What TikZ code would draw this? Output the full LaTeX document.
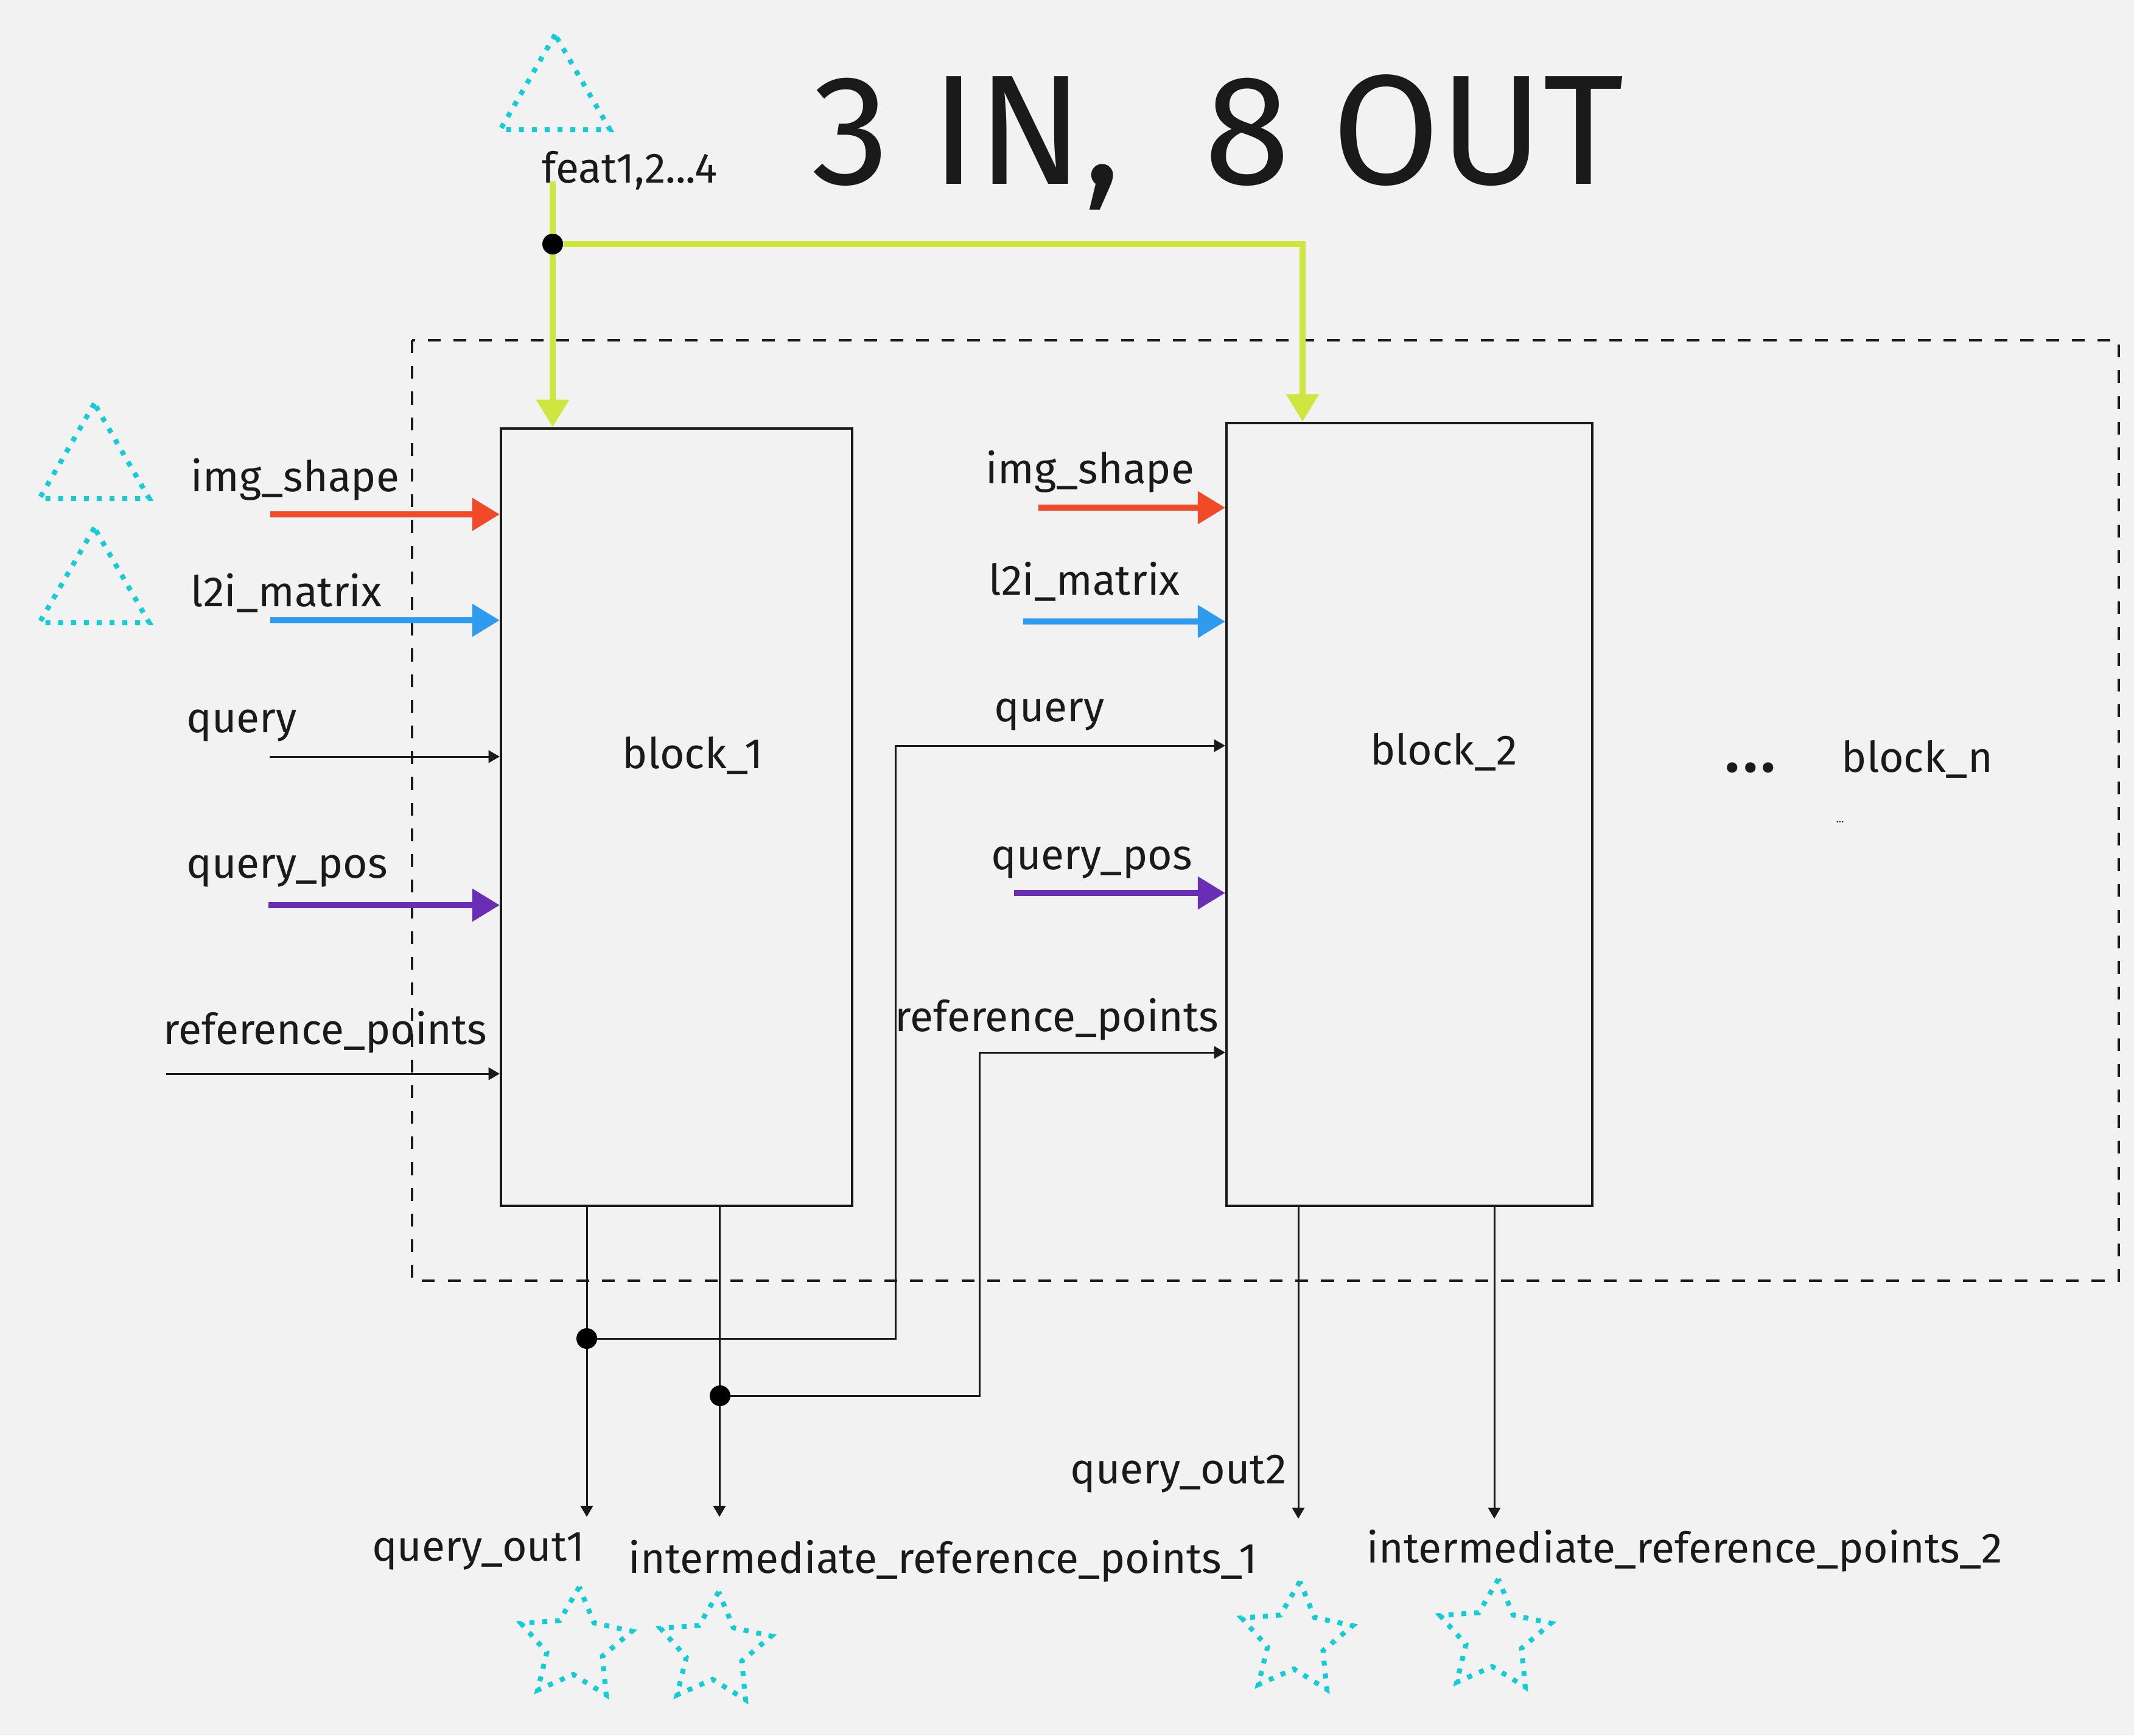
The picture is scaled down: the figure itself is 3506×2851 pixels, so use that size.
\documentclass[tikz,border=0pt]{standalone}
\usepackage{fontspec}
\setmainfont{Fira Sans}
\usetikzlibrary{arrows.meta,shapes.geometric}
\definecolor{bgcol}{HTML}{F2F2F2}
\definecolor{inkcol}{HTML}{1A1A1A}
\definecolor{featcol}{HTML}{CFE540}
\definecolor{shapecol}{HTML}{F04A28}
\definecolor{matcol}{HTML}{2F9BEF}
\definecolor{poscol}{HTML}{6A2DB6}
\definecolor{markcol}{HTML}{12CDD6}

\begin{document}
\begin{tikzpicture}[x=0.01cm,y=-0.01cm]
    % Basic styles
    \tikzset{
        block/.style={rectangle, draw=inkcol, line width=1.1pt, inner sep=0pt},
        lbl/.style={anchor=base west, inner sep=0pt, text=inkcol, font=\fontsize{19.8}{22}\selectfont},
        thinarrow/.style={draw=inkcol, line width=0.85pt, -{Triangle[length=5.2pt,width=5.8pt]}},
        fatarrow/.style={line width=2.6pt, -{Triangle[length=12.8pt,width=14.8pt]}},
        tri/.style={regular polygon, regular polygon sides=3, minimum size=2.08cm, inner sep=0pt,
            draw=markcol, line width=2.3pt, dash pattern=on 2.3pt off 3.7pt},
        outstar/.style={star, star points=5, star point ratio=2.0, minimum size=1.92cm, inner sep=0pt,
            draw=markcol, line width=2.3pt, dash pattern=on 2.3pt off 3.7pt, rotate=-4},
        joint/.style={circle, fill=black, inner sep=0pt, minimum size=0.34cm}
    }

    % Canvas
    \fill[bgcol] (0,0) rectangle (3506,2851);
    \useasboundingbox (0,0) rectangle (3506,2851);

    % Title
    \node[anchor=base, inner sep=0pt, text=inkcol, font=\fontsize{73}{76}\selectfont] (title) at (2001,302) {3 IN,\ \ 8 OUT};

    % Outer frame
    \draw[inkcol, line width=0.9pt, dash pattern=on 6pt off 6pt] (677,559) rectangle (3481,2104);

    % Blocks
    \node[block, minimum width=5.77cm, minimum height=12.77cm] (box1) at (1111.5,1342.5) {};
    \node[block, minimum width=6.01cm, minimum height=12.86cm] (box2) at (2315.5,1338) {};
    \node[lbl, anchor=base] (name1) at (1138,1262) {block\_1};
    \node[lbl, anchor=base] (name2) at (2372,1256) {block\_2};
    \node[lbl, anchor=base, font=\fontsize{35}{37}\selectfont] (more) at (2876,1268) {...};
    \node[lbl] (namen) at (3025,1268) {block\_n};
    \node[lbl, font=\fontsize{5}{6}\selectfont] (tiny) at (3016,1351) {...};

    % Input markers
    \node[tri] (mark1) at (912,161) {};
    \node[tri] (mark2) at (155,767) {};
    \node[tri] (mark3) at (155,971) {};
    \node[lbl] (feat) at (890,300) {feat1,2...4};

    % Inputs of block_1
    \node[lbl] (shape1) at (313,807) {img\_shape};
    \node[lbl] (mat1) at (313,996) {l2i\_matrix};
    \node[lbl] (query1) at (306,1203) {query};
    \node[lbl] (pos1) at (306,1442) {query\_pos};
    \node[lbl] (ref1) at (268,1715) {reference\_points};
    \coordinate (shapeIn1) at (444,845);
    \coordinate (matIn1) at (444,1019);
    \coordinate (queryIn1) at (443,1243);
    \coordinate (posIn1) at (441,1487);
    \coordinate (refIn1) at (273,1764);
    \draw[fatarrow, shapecol] (shapeIn1) -- (shapeIn1 -| box1.west);
    \draw[fatarrow, matcol] (matIn1) -- (matIn1 -| box1.west);
    \draw[thinarrow] (queryIn1) -- (queryIn1 -| box1.west);
    \draw[fatarrow, poscol] (posIn1) -- (posIn1 -| box1.west);
    \draw[thinarrow] (refIn1) -- (refIn1 -| box1.west);

    % Inputs of block_2
    \node[lbl] (shape2) at (1619,794) {img\_shape};
    \node[lbl] (mat2) at (1624,977) {l2i\_matrix};
    \node[lbl] (query2) at (1633,1185) {query};
    \node[lbl] (pos2) at (1628,1428) {query\_pos};
    \node[lbl] (ref2) at (1470,1694) {reference\_points};
    \coordinate (shapeIn2) at (1706,834);
    \coordinate (matIn2) at (1681,1021);
    \coordinate (posIn2) at (1666,1467);
    \draw[fatarrow, shapecol] (shapeIn2) -- (shapeIn2 -| box2.west);
    \draw[fatarrow, matcol] (matIn2) -- (matIn2 -| box2.west);
    \draw[fatarrow, poscol] (posIn2) -- (posIn2 -| box2.west);

    % Features to both blocks
    \coordinate (featTop) at (908,298);
    \coordinate (featSplit) at (908,401);
    \coordinate (featTurn) at (2140,401);
    \draw[fatarrow, featcol] (featTop) -- (featTop |- box1.north);
    \draw[fatarrow, featcol] (featSplit) -- (featTurn) -- (featTurn |- box2.north);
    \node[joint] (featDot) at (featSplit) {};

    % Outputs of block_1, fed forward to block_2
    \coordinate (qOut1) at (964,2492);
    \coordinate (rOut1) at (1182,2492);
    \coordinate (qSplit) at (964,2199);
    \coordinate (rSplit) at (1183,2293);
    \coordinate (qTurn) at (1471,1225);
    \coordinate (rTurn) at (1609,1729);
    \draw[thinarrow] (box1.south -| qOut1) -- (qOut1);
    \draw[thinarrow] (box1.south -| rOut1) -- (rOut1);
    \draw[thinarrow] (qSplit) -| (qTurn) -- (qTurn -| box2.west);
    \draw[thinarrow] (rSplit) -| (rTurn) -- (rTurn -| box2.west);
    \node[joint] (qDot) at (qSplit) {};
    \node[joint] (rDot) at (rSplit) {};

    % Outputs of block_2
    \coordinate (qOut2) at (2133,2495);
    \coordinate (rOut2) at (2455,2495);
    \draw[thinarrow] (box2.south -| qOut2) -- (qOut2);
    \draw[thinarrow] (box2.south -| rOut2) -- (rOut2);

    % Output labels and markers
    \node[lbl, anchor=base east] (qName1) at (961,2564) {query\_out1};
    \node[lbl] (rName1) at (1032,2584) {intermediate\_reference\_points\_1};
    \node[lbl] (qName2) at (1758,2437) {query\_out2};
    \node[lbl] (rName2) at (2245,2567) {intermediate\_reference\_points\_2};
    \node[outstar] (star1) at (945,2703) {};
    \node[outstar] (star2) at (1174,2711) {};
    \node[outstar] (star3) at (2129,2694) {};
    \node[outstar] (star4) at (2455,2690) {};
\end{tikzpicture}
\end{document}
